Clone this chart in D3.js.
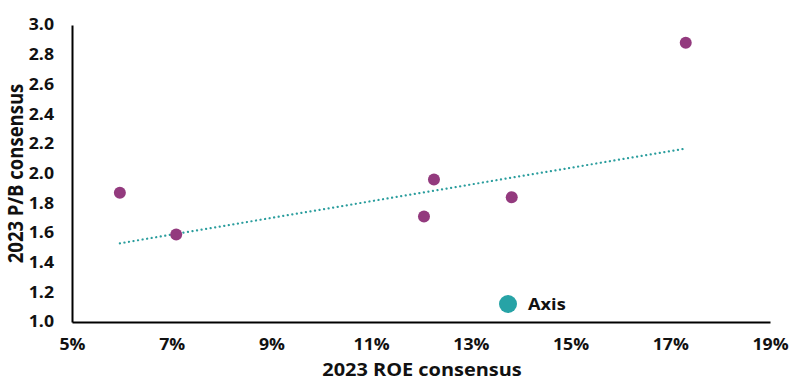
<!DOCTYPE html>
<html>
<head>
<meta charset="utf-8">
<script src="https://cdn.jsdelivr.net/npm/d3@7"></script>
<style>
  html, body { margin: 0; padding: 0; background: #fff; }
  svg { display: block; font-family: "Open Sans", "Noto Sans", sans-serif; }
</style>
</head>
<body>
<svg id="chart" width="800" height="384"></svg>
<script>
// Data (ROE in %, P/B ratio)
const roeValues = [5.96, 7.09, 12.06, 12.26, 13.82, 17.31];
const pbValues  = [1.87, 1.59, 1.71, 1.96, 1.84, 2.88];
const trendRoe  = [5.96, 17.25];
const trendPb   = [1.53, 2.165];
const xTicks = [5, 7, 9, 11, 13, 15, 17, 19];
const yTicks = [1.0, 1.2, 1.4, 1.6, 1.8, 2.0, 2.2, 2.4, 2.6, 2.8, 3.0];
const legendLabel = "Axis";
const xTitle = "2023 ROE consensus";
const yTitle = "2023 P/B consensus";

const svg = d3.select("#chart");
const mLeft = 72, mRight = 770, mTop = 25, mBottom = 322;
const stretch = 1.14;

const x = d3.scaleLinear().domain([5, 19]).range([mLeft, mRight]);
const y = d3.scaleLinear().domain([1.0, 3.0]).range([mBottom, mTop]);

// Axes
const xAxis = d3.axisBottom(x).tickValues(xTicks).tickSize(0).tickPadding(18)
  .tickFormat(d => d + "%");
const yAxis = d3.axisLeft(y).tickValues(yTicks).tickSize(0).tickPadding(17)
  .tickFormat(d3.format(".1f"));

const gx = svg.append("g").attr("transform", `translate(0,${mBottom})`).call(xAxis);
const gy = svg.append("g").attr("transform", `translate(${mLeft},0)`).call(yAxis);

[gx, gy].forEach(g => {
  g.select(".domain").attr("stroke", "#000").attr("stroke-width", 2);
  g.selectAll("text").attr("font-size", 15.5).attr("font-weight", 700)
    .attr("fill", "#111").attr("font-family", "'Open Sans', sans-serif");
});
gx.selectAll("text").attr("dy", "0.71em").attr("y", 17)
  .attr("transform", `scale(${stretch},1)`);
gy.selectAll("text").attr("x", -18 / stretch)
  .attr("transform", `scale(${stretch},1)`);

// Trendline
svg.append("line")
  .attr("x1", x(trendRoe[0])).attr("y1", y(trendPb[0]))
  .attr("x2", x(trendRoe[1])).attr("y2", y(trendPb[1]))
  .attr("stroke", "#2a9d9d").attr("stroke-width", 2.2)
  .attr("stroke-dasharray", "0.1 4.5").attr("stroke-linecap", "round");

// Points
svg.append("g").selectAll("circle")
  .data(roeValues.map((r, i) => ({ r, p: pbValues[i] })))
  .join("circle")
  .attr("cx", d => x(d.r)).attr("cy", d => y(d.p))
  .attr("r", 6).attr("fill", "#933a7e");

// Legend
svg.append("circle").attr("cx", 508).attr("cy", 304).attr("r", 9).attr("fill", "#27a3a6");
svg.append("text").attr("transform", `translate(528,310) scale(${stretch},1)`).text(legendLabel)
  .attr("font-size", 16).attr("font-weight", 700).attr("fill", "#111");

// Axis titles
svg.append("text")
  .attr("transform", `translate(${(mLeft + mRight) / 2 + 1},376) scale(${stretch},1)`)
  .attr("text-anchor", "middle").attr("font-size", 17.5).attr("font-weight", 700)
  .attr("fill", "#111").text(xTitle);
svg.append("text")
  .attr("transform", `translate(23,${(mTop + mBottom) / 2}) rotate(-90) scale(1,${stretch})`)
  .attr("text-anchor", "middle").attr("font-size", 18.5).attr("font-weight", 700)
  .attr("fill", "#111").text(yTitle);
</script>
</body>
</html>
